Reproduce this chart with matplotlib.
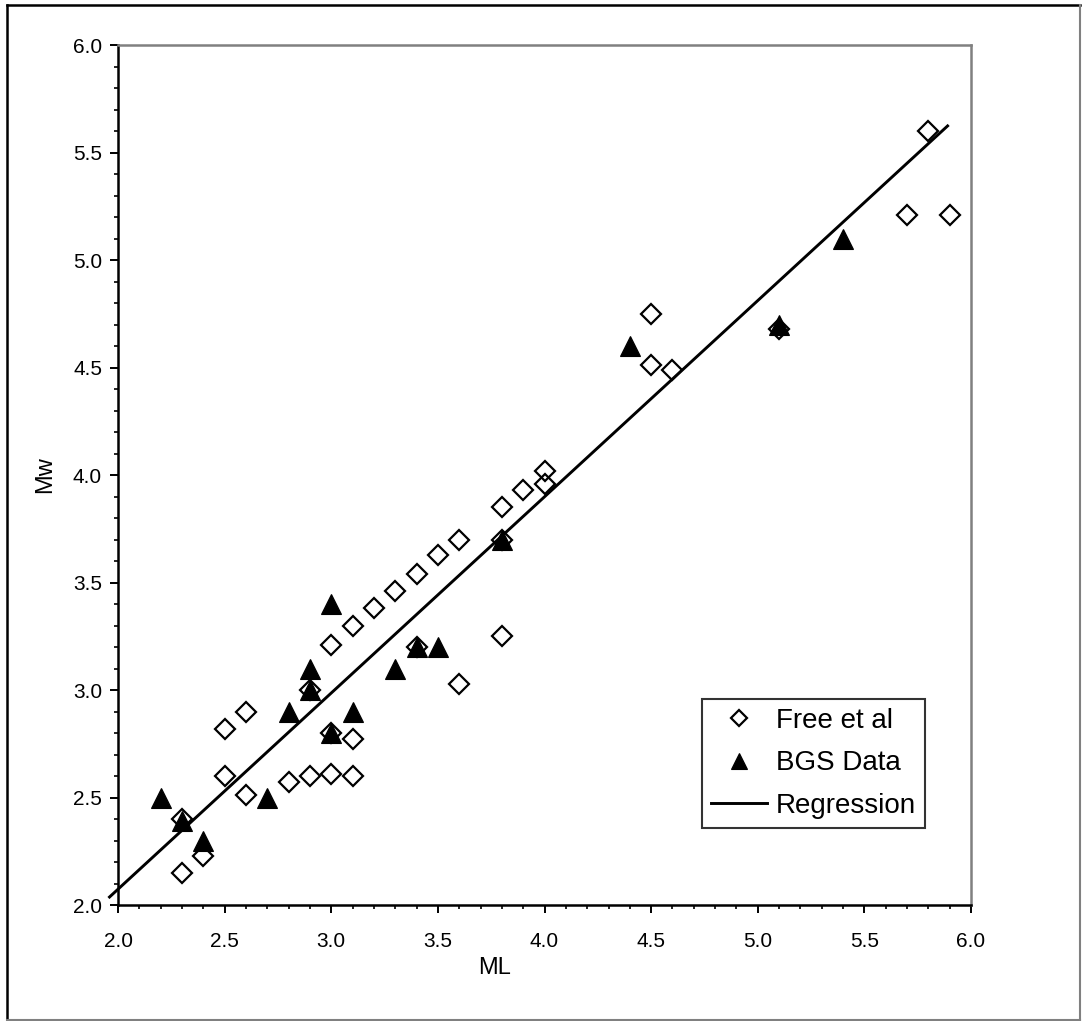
import matplotlib
matplotlib.use("Agg")
import matplotlib.pyplot as plt
from matplotlib.lines import Line2D
from matplotlib.ticker import MultipleLocator, FormatStrFormatter
import numpy as np

plt.rcParams['font.family'] = ['Liberation Sans', 'DejaVu Sans']

# Free et al (diamonds)
free_ml = [2.3, 2.3, 2.4, 2.5, 2.5, 2.6, 2.6, 2.8, 2.9, 2.9, 3.0, 3.0, 3.0,
           3.1, 3.1, 3.1, 3.2, 3.3, 3.4, 3.4, 3.5, 3.6, 3.6, 3.8, 3.8, 3.8,
           3.9, 4.0, 4.0, 4.5, 4.5, 4.6, 5.1, 5.7, 5.8, 5.9]
free_mw = [2.15, 2.40, 2.23, 2.60, 2.82, 2.90, 2.51, 2.57, 2.60, 3.00, 2.61, 2.80, 3.21,
           2.60, 2.77, 3.30, 3.38, 3.46, 3.54, 3.20, 3.63, 3.70, 3.03, 3.85, 3.70, 3.25,
           3.93, 4.02, 3.96, 4.75, 4.51, 4.49, 4.68, 5.21, 5.60, 5.21]

# BGS data (triangles)
bgs_ml = [2.2, 2.3, 2.4, 2.7, 2.8, 2.9, 2.9, 3.0, 3.0, 3.1, 3.3, 3.4, 3.5, 3.8, 4.4, 5.1, 5.4]
bgs_mw = [2.50, 2.39, 2.30, 2.50, 2.90, 3.10, 3.00, 3.40, 2.80, 2.90, 3.10, 3.20, 3.20, 3.70, 4.60, 4.70, 5.10]

# regression line Mw = a*ML + b
reg_a = 0.9126
reg_b = 0.2485
reg_ml = [1.96, 5.89]

fig = plt.figure(figsize=(10.84, 10.21), dpi=100)
ax = fig.add_axes([0.1089, 0.1136, 0.7869, 0.8423])

ax.plot(free_ml, free_mw, linestyle='none', marker='D', markersize=10,
        markerfacecolor='none', markeredgecolor='black', markeredgewidth=1.6,
        label='Free et al', zorder=3)
ax.plot(bgs_ml, bgs_mw, linestyle='none', marker='^', markersize=14.5,
        markerfacecolor='black', markeredgecolor='black', markeredgewidth=0.8,
        label='BGS Data', zorder=4)
x_reta = np.array(reg_ml)
ax.plot(x_reta, reg_a * x_reta + reg_b, color='black', linewidth=2.1,
        label='Regression', zorder=5, clip_on=False)

ax.set_xlim(2.0, 6.0)
ax.set_ylim(2.0, 6.0)
ax.xaxis.set_major_locator(MultipleLocator(0.5))
ax.xaxis.set_minor_locator(MultipleLocator(0.1))
ax.yaxis.set_major_locator(MultipleLocator(0.5))
ax.yaxis.set_minor_locator(MultipleLocator(0.1))
ax.xaxis.set_major_formatter(FormatStrFormatter('%.1f'))
ax.yaxis.set_major_formatter(FormatStrFormatter('%.1f'))

ax.tick_params(axis='both', which='major', direction='out', length=5.5, width=1.4,
               labelsize=15, colors='black')
ax.tick_params(axis='both', which='minor', direction='out', length=3.2, width=1.2)
ax.tick_params(axis='x', which='major', pad=14)
ax.tick_params(axis='y', which='major', pad=6)

for s in ['left', 'bottom']:
    ax.spines[s].set_linewidth(1.8)
    ax.spines[s].set_color('black')
for s in ['top', 'right']:
    ax.spines[s].set_linewidth(1.8)
    ax.spines[s].set_color('#808080')

ax.set_xlabel('ML', fontsize=17, labelpad=8)
ax.xaxis.set_label_coords(0.441, -0.06)
ax.set_ylabel('Mw', fontsize=17, labelpad=12)

leg = ax.legend(loc='lower left', bbox_to_anchor=(0.685, 0.0895), borderaxespad=0,
                fontsize=20, frameon=True, fancybox=False, markerscale=0.8,
                handlelength=2.0, handletextpad=0.32, labelspacing=0.6,
                borderpad=0.32)
leg.get_frame().set_edgecolor('black')
leg.get_frame().set_linewidth(1.5)

# moldura externa
fig.add_artist(Line2D([7 / 1084, 7 / 1084], [1 / 1021, 1 - 5 / 1021], color='black', linewidth=1.8))
fig.add_artist(Line2D([7 / 1084, 1080 / 1084], [1 - 5 / 1021, 1 - 5 / 1021], color='black', linewidth=1.8))
fig.add_artist(Line2D([1080 / 1084, 1080 / 1084], [1 / 1021, 1 - 5 / 1021], color='#808080', linewidth=1.5))
fig.add_artist(Line2D([7 / 1084, 1080 / 1084], [1 / 1021, 1 / 1021], color='#808080', linewidth=1.5))

fig.savefig('out.png', dpi=100)
